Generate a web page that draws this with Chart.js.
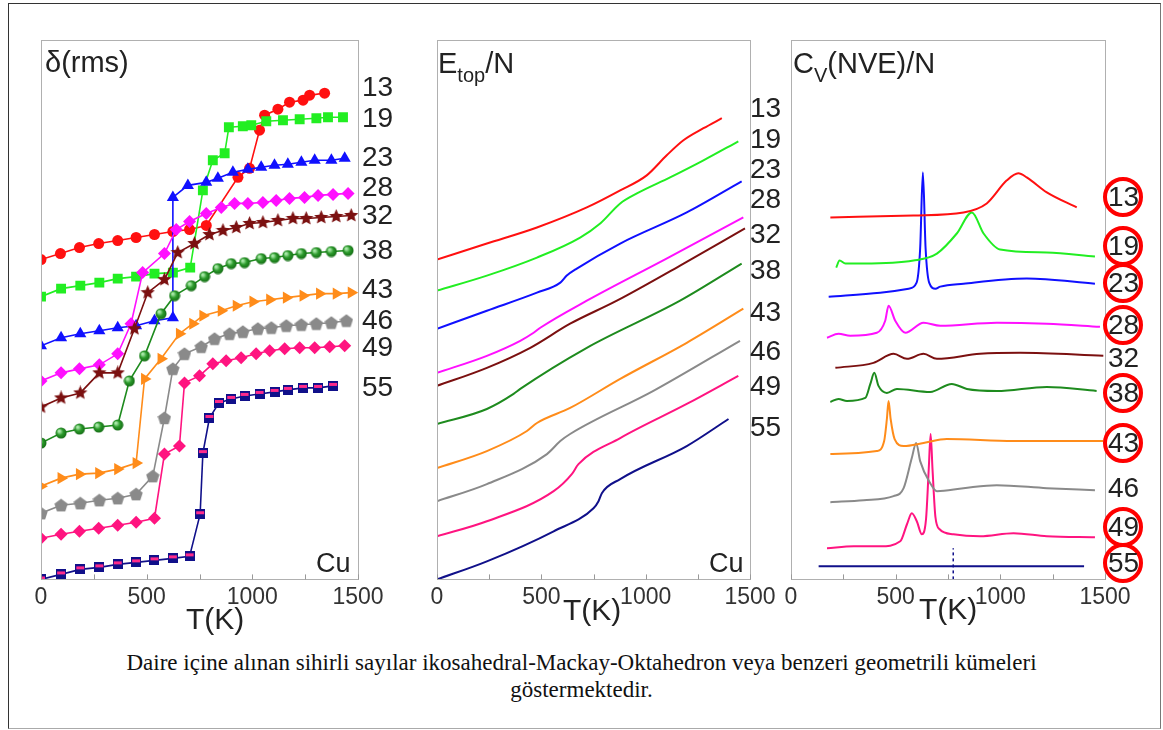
<!DOCTYPE html>
<html>
<head>
<meta charset="utf-8">
<script src="https://cdn.jsdelivr.net/npm/chart.js@4.4.1/dist/chart.umd.min.js"></script>
<style>
  body { margin: 0; width: 1163px; height: 730px; background: #fff; position: relative; overflow: hidden;
         font-family: "Liberation Sans", Arial, sans-serif; color: #222; }
  .outer { position: absolute; left: 8px; top: 3px; width: 1153px; height: 726px; box-sizing: border-box;
           border: 1px solid #333; border-bottom-color: #aaa; border-right-color: #777; }
  canvas { position: absolute; top: 20px; }
  .txt { position: absolute; font-size: 28px; line-height: 28px; white-space: nowrap; z-index: 2; }
  .title { font-size: 29px; line-height: 28px; }
  .title sub { font-size: 20px; vertical-align: -9px; line-height: 0; }
  .clip { position: absolute; overflow: hidden; z-index: 2; }
  .ring { position: absolute; width: 32px; height: 32px; border: 4px solid #f00; border-radius: 50%; }
  .caption { position: absolute; left: 0; width: 1163px; top: 649px; text-align: center; z-index: 2;
             font-family: "Liberation Serif", "DejaVu Serif", serif; font-size: 23px; line-height: 27px; color: #111; }
</style>
</head>
<body>
<div class="outer"></div>
<canvas id="rmsChart" width="400" height="600" style="left:20px"></canvas>
<canvas id="etopChart" width="400" height="600" style="left:416px"></canvas>
<canvas id="cvChart" width="400" height="600" style="left:770px"></canvas>

<div class="txt title" style="left:45px;top:48px">δ(rms)</div>
<div class="txt title" style="left:438px;top:49px">E<sub>top</sub>/N</div>
<div class="txt title" style="left:793px;top:49px">C<sub>V</sub>(NVE)/N</div>

<div class="txt" style="left:316px;top:549px;font-size:27px">Cu</div>
<div class="txt" style="left:709px;top:549px;font-size:27px">Cu</div>

<div class="txt" style="left:186px;top:604px;font-size:30px;line-height:30px">T(K)</div>
<div class="txt" style="left:563px;top:595px;font-size:30px;line-height:30px">T(K)</div>
<div class="txt" style="left:919px;top:594px;font-size:30px;line-height:30px">T(K)</div>

<div id="rmsLabels" class="clip" style="left:360px;top:0;width:36px;height:420px"></div>
<div id="etopLabels" class="clip" style="left:748px;top:0;width:42px;height:460px"></div>
<div id="cvLabels" class="clip" style="left:1090px;top:0;width:55px;height:600px"></div>

<div class="caption">Daire içine alınan sihirli sayılar ikosahedral-Mackay-Oktahedron veya benzeri geometrili kümeleri<br>göstermektedir.</div>

<script>
// cluster sizes (Cu_N)
const sizes = [13, 19, 23, 28, 32, 38, 43, 46, 49, 55];
const magic = [13, 19, 23, 28, 38, 43, 49, 55];
const xTicks = [0, 500, 1000, 1500];
const minorTicks = [0, 250, 500, 750, 1000, 1250, 1500];

// delta(rms) vs T(K), arbitrary offset units
const rms13 = [[0,319],[92,325],[182,331],[273,335],[363,338],[450,341],[537,344],[624,347],[703,349],[782,353],[932,401],[987,410],[1034,448],[1058,463],[1121,469],[1176,476],[1240,478],[1271,483],[1342,485]];
const rms19 = [[0,282],[95,290],[186,293],[276,296],[363,300],[450,302],[537,305],[624,306],[706,311],[766,388],[813,418],[869,425],[889,451],[955,452],[995,453],[1066,457],[1145,458],[1224,459],[1303,460],[1358,461],[1429,461]];
const rms23 = [[0,233],[95,241],[186,245],[276,248],[363,251],[450,253],[537,258],[624,261],[624,381],[695,393],[782,396],[837,400],[908,406],[979,409],[1042,411],[1105,413],[1168,414],[1232,416],[1295,418],[1374,418],[1437,420]];
const rms28 = [[0,198],[95,206],[182,210],[276,214],[363,225],[426,255],[481,306],[584,325],[640,349],[703,357],[782,365],[853,371],[916,375],[979,375],[1050,376],[1113,378],[1176,380],[1247,381],[1311,383],[1382,384],[1453,385]];
const rms32 = [[0,172],[95,181],[186,186],[276,206],[363,206],[442,250],[505,286],[584,299],[647,326],[726,335],[797,344],[861,348],[924,351],[987,355],[1050,356],[1121,358],[1192,360],[1255,360],[1326,361],[1397,362],[1468,363]];
const rms38 = [[0,136],[95,146],[182,150],[273,152],[363,154],[418,198],[490,223],[568,265],[632,283],[711,293],[774,302],[837,310],[900,315],[963,316],[1042,320],[1105,321],[1168,323],[1232,325],[1303,326],[1374,327],[1453,328]];
const rms43 = [[0,93],[95,101],[182,105],[273,106],[363,110],[450,116],[490,200],[568,220],[655,245],[718,255],[766,263],[853,268],[924,273],[1003,277],[1082,279],[1161,281],[1240,283],[1318,285],[1397,285],[1468,286]];
const rms46 = [[0,66],[95,74],[186,76],[276,79],[363,81],[450,85],[529,103],[584,161],[624,210],[679,225],[758,232],[821,240],[892,245],[955,247],[1026,250],[1090,251],[1161,253],[1232,254],[1303,255],[1374,256],[1445,258]];
const rms49 = [[0,41],[95,45],[182,48],[273,51],[363,54],[450,57],[537,61],[584,125],[655,133],[679,196],[750,203],[813,215],[876,218],[947,221],[1018,225],[1082,228],[1153,230],[1224,231],[1295,231],[1366,232],[1437,233]];
const rms55 = [[0,0],[95,5],[186,10],[276,12],[363,15],[450,17],[537,19],[624,21],[703,23],[753,65],[766,126],[797,161],[842,176],[900,180],[963,183],[1034,185],[1105,187],[1168,189],[1240,191],[1311,191],[1382,193]];

// E_top/N vs T(K)
const e13 = [[0,319],[239,335],[479,351],[718,371],[878,388],[1005,403],[1101,423],[1181,438],[1277,450],[1365,460]];
const e19 = [[0,288],[239,303],[479,321],[686,341],[782,355],[878,375],[958,385],[1117,401],[1277,418],[1444,437]];
const e23 = [[0,250],[239,268],[479,286],[591,296],[622,303],[670,310],[878,335],[1197,366],[1460,397]];
const e28 = [[0,206],[239,223],[399,238],[463,246],[495,251],[718,278],[1100,320],[1468,361]];
const e32 = [[0,193],[239,211],[447,231],[638,255],[862,278],[1165,313],[1476,350]];
const e38 = [[0,155],[239,170],[367,185],[399,190],[718,231],[1165,278],[1460,315]];
const e43 = [[0,111],[239,128],[431,148],[479,156],[638,171],[878,200],[1197,236],[1468,270]];
const e46 = [[0,78],[239,95],[527,125],[591,138],[638,145],[1037,188],[1452,238]];
const e49 = [[0,43],[239,58],[559,88],[646,105],[678,115],[878,141],[1197,175],[1444,203]];
const e55 = [[0,0],[239,18],[559,48],[750,71],[774,78],[790,86],[878,100],[1197,133],[1397,160]];

// Cv(NVE)/N vs T(K)
const c13 = [[188,361],[585,363],[824,366],[935,375],[1031,398],[1086,405],[1126,401],[1222,386],[1365,371]];
const c19 = [[216,311],[232,318],[260,315],[347,315],[585,318],[697,325],[792,345],[864,366],[920,345],[999,329],[1222,326],[1452,322]];
const c23 = [[180,282],[426,286],[562,290],[600,296],[617,330],[630,406],[643,330],[660,296],[690,290],[713,292],[824,295],[1126,300],[1452,295]];
const c28 = [[172,241],[227,245],[283,243],[410,246],[450,258],[466,273],[498,258],[546,246],[633,256],[713,253],[983,256],[1222,255],[1476,252]];
const c32 = [[212,211],[394,216],[490,225],[554,220],[633,225],[697,220],[903,225],[1094,226],[1492,223]];
const c38 = [[188,177],[227,180],[267,178],[355,181],[379,195],[398,206],[418,193],[458,186],[506,190],[665,187],[768,195],[840,190],[983,188],[1222,192],[1460,188]];
const c43 = [[188,125],[410,128],[445,138],[458,160],[466,178],[476,160],[495,140],[538,133],[633,136],[744,140],[1063,138],[1492,138]];
const c46 = [[188,77],[347,79],[490,83],[538,91],[577,121],[598,136],[617,118],[665,96],[697,88],[824,91],[983,94],[1222,91],[1452,89]];
const c49 = [[172,31],[300,33],[426,33],[522,38],[554,55],[577,66],[601,58],[625,45],[645,60],[658,110],[667,145],[676,110],[690,62],[710,50],[776,45],[904,43],[1063,46],[1222,43],[1452,42]];
const c55 = [[132,13],[1400,13]];
const c55peak = [[775,0],[775,31]];

const colors = ['#ff1010', '#22ee22', '#1010ff', '#ff10ff', '#7b1010', '#1e8b1e', '#ff8c1a', '#8a8a8a', '#ff1480', '#10108a'];

const xy = arr => arr.map(([x, y]) => ({ x, y }));

function marker(size, draw) {
  const c = document.createElement('canvas');
  c.width = c.height = size;
  draw(c.getContext('2d'), size / 2);
  return c;
}
const starMark = marker(15, (g, r) => {
  g.fillStyle = '#7b1010';
  g.beginPath();
  for (let i = 0; i < 10; i++) {
    const a = -Math.PI / 2 + i * Math.PI / 5, rr = i % 2 ? r * 0.45 : r;
    g.lineTo(r + rr * Math.cos(a), r + rr * Math.sin(a));
  }
  g.closePath(); g.fill();
});
const ballMark = marker(12, (g, r) => {
  const grad = g.createRadialGradient(r - 2, r - 2, 1, r, r, r);
  grad.addColorStop(0, '#a8e8a8'); grad.addColorStop(0.45, '#2a9a2a'); grad.addColorStop(1, '#126612');
  g.fillStyle = grad; g.beginPath(); g.arc(r, r, r - 0.5, 0, Math.PI * 2); g.fill();
});
const pentMark = marker(14, (g, r) => {
  g.fillStyle = '#8a8a8a';
  g.beginPath();
  for (let i = 0; i < 5; i++) {
    const a = -Math.PI / 2 + i * 2 * Math.PI / 5;
    g.lineTo(r + r * Math.cos(a), r + 0.6 + r * Math.sin(a));
  }
  g.closePath(); g.fill();
});
const squareMark = marker(10, (g) => {
  g.fillStyle = '#10108a'; g.fillRect(0, 0, 10, 10);
  g.fillStyle = '#ff2a8a'; g.fillRect(1, 2, 8, 3);
});

const rmsStyles = [
  { pointStyle: 'circle', pointRadius: 5.5 },
  { pointStyle: 'rect', pointRadius: 7 },
  { pointStyle: 'triangle', pointRadius: 7 },
  { pointStyle: 'rectRot', pointRadius: 6.5 },
  { pointStyle: starMark },
  { pointStyle: ballMark },
  { pointStyle: 'triangle', pointRadius: 7, rotation: 90 },
  { pointStyle: pentMark },
  { pointStyle: 'rectRot', pointRadius: 6.5 },
  { pointStyle: squareMark }
];

const frame = {
  id: 'frame',
  afterDraw(chart) {
    const { ctx, chartArea: a, scales: { x } } = chart;
    ctx.save();
    ctx.strokeStyle = '#b0b0b0';
    ctx.lineWidth = 1;
    ctx.strokeRect(Math.round(a.left) + 0.5, Math.round(a.top) + 0.5, Math.round(a.right - a.left), Math.round(a.bottom - a.top));
    ctx.strokeStyle = '#999';
    minorTicks.forEach(t => {
      const px = Math.round(x.getPixelForValue(t)) + 0.5;
      ctx.beginPath(); ctx.moveTo(px, a.bottom); ctx.lineTo(px, a.bottom - 5); ctx.stroke();
    });
    ctx.restore();
  }
};

function options(pad) {
  return {
    responsive: false,
    animation: false,
    layout: { padding: pad },
    plugins: { legend: { display: false }, tooltip: { enabled: false } },
    scales: {
      x: {
        type: 'linear', min: 0, max: 1500,
        afterBuildTicks: s => { s.ticks = xTicks.map(v => ({ value: v })); },
        ticks: { color: '#333', padding: 4, maxRotation: 0, callback: v => String(v),
                 font: { family: 'Liberation Sans', size: 23 } },
        grid: { display: false, drawTicks: false },
        border: { display: false }
      },
      y: { display: false, min: 0, max: 538 }
    }
  };
}

new Chart(document.getElementById('rmsChart'), {
  type: 'line',
  data: {
    datasets: [rms55, rms49, rms46, rms43, rms38, rms32, rms28, rms23, rms19, rms13].map((d, k) => {
      const i = 9 - k;
      return {
        label: String(sizes[i]), data: xy(d),
        borderColor: colors[i], backgroundColor: colors[i], borderWidth: 1.6, tension: 0,
        pointBorderWidth: 0, ...rmsStyles[i]
      };
    })
  },
  options: options({ left: 21, top: 20, right: 62, bottom: 5 }),
  plugins: [frame]
});

function smooth(list) {
  return list.map((d, i) => ({
    label: String(sizes[i]), data: xy(d), borderColor: colors[i], borderWidth: 2,
    pointRadius: 0, cubicInterpolationMode: 'monotone'
  }));
}

new Chart(document.getElementById('etopChart'), {
  type: 'line',
  data: { datasets: smooth([e13, e19, e23, e28, e32, e38, e43, e46, e49, e55]) },
  options: options({ left: 21, top: 20, right: 66, bottom: 5 }),
  plugins: [frame]
});

const cvSets = smooth([c13, c19, c23, c28, c32, c38, c43, c46, c49, c55]);
cvSets.push({ label: '55 peak', data: xy(c55peak), borderColor: colors[9], borderWidth: 1.5, borderDash: [3, 3], pointRadius: 0, tension: 0 });

new Chart(document.getElementById('cvChart'), {
  type: 'line',
  data: { datasets: cvSets },
  options: options({ left: 21, top: 20, right: 65, bottom: 5 }),
  plugins: [frame]
});

// size labels at the right of each panel
const rmsLabelY = [87, 118, 157, 187, 215, 250, 289, 320, 347, 387];
const etopLabelY = [108, 139, 169, 199, 234, 270, 312, 351, 386, 427];
const cvLabelY = [197, 246, 283, 325, 358, 393, 443, 488, 527, 563];

function addLabels(boxId, ys, x, withRings) {
  const box = document.getElementById(boxId);
  sizes.forEach((n, i) => {
    const d = document.createElement('div');
    d.className = 'txt';
    d.textContent = n;
    d.style.left = x + 'px';
    d.style.top = (ys[i] - 14) + 'px';
    box.appendChild(d);
    if (withRings && magic.includes(n)) {
      const r = document.createElement('div');
      r.className = 'ring';
      r.style.left = (x - 5) + 'px';
      r.style.top = (ys[i] - 20) + 'px';
      box.appendChild(r);
    }
  });
}
addLabels('rmsLabels', rmsLabelY, 2, false);
addLabels('etopLabels', etopLabelY, 2, false);
addLabels('cvLabels', cvLabelY, 18, true);
</script>
</body>
</html>
